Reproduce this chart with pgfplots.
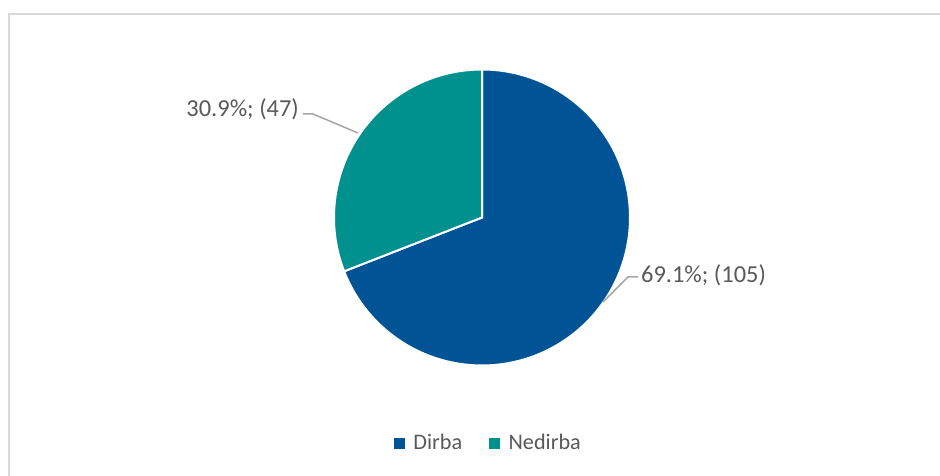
\documentclass[border=0pt]{standalone}
\usepackage{pgfplots}
\pgfplotsset{compat=1.18}
\usepackage{fontspec}
\setmainfont{Carlito}
\definecolor{dirba}{HTML}{005496}
\definecolor{nedirba}{HTML}{00918F}
\definecolor{txt}{HTML}{595959}
\definecolor{frame}{HTML}{D9D9D9}
\definecolor{leader}{HTML}{A6A6A6}
% data
\def\vDirba{105}
\def\vNedirba{47}
\pgfmathsetmacro{\total}{\vDirba+\vNedirba}
\pgfmathsetmacro{\aend}{90-360*(\vDirba/\total)}
\pgfmathsetmacro{\bend}{90+360*(\vNedirba/\total)}
\begin{document}
\begin{tikzpicture}
\begin{axis}[
  width=940bp, height=476bp, scale only axis,
  xmin=0, xmax=940, ymin=0, ymax=476,
  hide axis, clip=false,
  legend columns=2,
  legend style={draw=none, fill=none, inner sep=0pt, outer sep=0pt,
    at={(axis cs:394,33)}, anchor=west,
    font=\fontsize{22.3}{25}\selectfont, text=txt,
    nodes={inner sep=0pt, anchor=west},
    /tikz/every odd column/.append style={column sep=9bp},
    /tikz/every even column/.append style={column sep=27bp}},
]
% frame (partial, as cropped)
\draw[frame, line width=2bp] (axis cs:9,0) -- (axis cs:9,462) -- (axis cs:940,462);
% slices
\addplot[fill=dirba, draw=white, line width=2bp, domain=\aend:90, samples=150, forget plot]
  ({482+148*cos(x)},{258.5+148*sin(x)}) -- (axis cs:482,258.5) -- cycle;
\addplot[fill=nedirba, draw=white, line width=2bp, domain=90:\bend, samples=80, forget plot]
  ({482+148*cos(x)},{258.5+148*sin(x)}) -- (axis cs:482,258.5) -- cycle;
% legend
\addlegendimage{legend image code/.code={\fill[dirba] (0bp,-5bp) rectangle (10bp,5bp);}}
\addlegendentry{Dirba}
\addlegendimage{legend image code/.code={\fill[nedirba] (0bp,-5bp) rectangle (10bp,5bp);}}
\addlegendentry{Nedirba}
% leader lines
\draw[leader, line width=1.5bp] (axis cs:303,362) -- (axis cs:313,362) -- (axis cs:358,343);
\draw[leader, line width=1.5bp] (axis cs:603,174) -- (axis cs:628,199) -- (axis cs:638,199);
% data labels
\node[anchor=base east, inner sep=0pt, text=txt, font=\fontsize{24.5}{28}\selectfont] at (axis cs:299,359) {30.9\%; (47)};
\node[anchor=base west, inner sep=0pt, text=txt, font=\fontsize{24.5}{28}\selectfont] at (axis cs:641,193) {69.1\%; (105)};
\end{axis}
\pgfresetboundingbox
\path[use as bounding box] (0,0) rectangle (940bp,476bp);
\end{tikzpicture}
\end{document}
